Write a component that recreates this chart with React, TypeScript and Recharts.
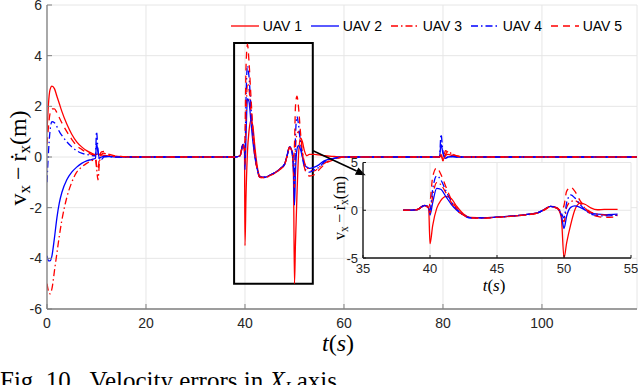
import React from 'react';
import { LineChart, Line, XAxis, YAxis, CartesianGrid, ReferenceArea, ReferenceLine, Legend } from 'recharts';

// time samples (s)
const time = [
  0, 0.3, 0.6, 1, 1.5, 2, 2.5, 3, 4, 5, 6, 7, 8, 9, 9.8, 10, 10.3, 10.6, 11, 11.5, 12, 13, 14, 16,
  20, 30, 38, 39,
  39.6, 39.9, 40, 40.2, 40.5, 40.8, 41.2, 41.6, 42, 42.5, 43,
  44, 45, 46, 47, 48, 48.5, 49, 49.5,
  49.8, 50, 50.2, 50.5, 50.8, 51.2, 51.6, 52, 52.5, 53, 54,
  55, 56, 58, 60, 70,
  79.3, 79.6, 80, 80.5, 81, 82, 83, 85,
  90, 100, 110, 119.2,
];

const uav1 = [
  1.0, 2.1, 2.65, 2.8, 2.7, 2.4, 2.1, 1.8, 1.3, 0.9, 0.6, 0.4, 0.25, 0.15, 0.1, 0.1, 0.12, 0.1, 0.08, 0.06, 0.05, 0.03, 0.02, 0.01,
  0, 0, 0, 0.05,
  0.5, 0.2, -3.5, -1.6, 0.2, 1.0, 1.45, 1.2, 0.4, -0.4, -0.75,
  -0.8, -0.72, -0.62, -0.48, -0.28, 0.05, 0.4, 0.25,
  -0.8, -5.0, -3.4, -1.5, 0.0, 0.75, 0.6, 0.25, 0.05, 0.1, 0.1,
  0.08, 0.05, 0.02, 0, 0,
  0, 0.05, -0.1, 0.05, 0.1, 0.05, 0.02, 0,
  0, 0, 0, 0,
];

const uav2 = [
  -3.9, -4.1, -4.1, -3.9, -3.2, -2.4, -1.8, -1.4, -0.9, -0.6, -0.4, -0.25, -0.15, -0.1, -0.05, 0.55, 0.2, -0.05, 0, 0.02, 0.02, 0.01, 0, 0,
  0, 0, 0, 0.05,
  0.5, 0.3, -0.5, 0.8, 2.3, 2.2, 1.4, 0.6, 0.0, -0.5, -0.8,
  -0.8, -0.72, -0.62, -0.48, -0.28, 0.05, 0.4, 0.2,
  -0.5, -1.9, -0.6, 0.3, 0.45, 0.3, 0.0, -0.3, -0.4, -0.45, -0.4,
  -0.3, -0.15, -0.05, 0, 0,
  0, 0.5, 0.15, -0.05, 0, 0.02, 0, 0,
  0, 0, 0, 0,
];

const uav3 = [
  -5.0, -5.3, -5.4, -5.2, -4.5, -3.8, -3.1, -2.5, -1.6, -1.0, -0.6, -0.4, -0.25, -0.15, -0.1, -0.4, -0.9, -0.2, 0.1, 0.15, 0.1, 0.05, 0.02, 0,
  0, 0, 0, 0.05,
  0.5, 0.3, -0.3, 1.5, 2.9, 2.7, 1.8, 0.8, 0.0, -0.5, -0.8,
  -0.82, -0.74, -0.64, -0.5, -0.3, 0.02, 0.38, 0.2,
  -0.5, -1.2, 0.3, 0.9, 1.0, 0.7, 0.2, -0.2, -0.4, -0.5, -0.55,
  -0.4, -0.25, -0.08, 0, 0,
  0, 0.1, -0.15, 0.1, 0.2, 0.1, 0.03, 0,
  0, 0, 0, 0,
];

const uav4 = [
  -1.0, 0.2, 1.0, 1.4, 1.35, 1.2, 1.0, 0.85, 0.6, 0.4, 0.25, 0.15, 0.1, 0.06, 0.05, 1.0, 0.3, -0.1, -0.1, 0, 0.02, 0.01, 0, 0,
  0, 0, 0, 0.05,
  0.5, 0.3, 0.0, 2.2, 3.6, 3.2, 2.0, 0.9, 0.1, -0.5, -0.8,
  -0.8, -0.72, -0.62, -0.48, -0.28, 0.05, 0.4, 0.2,
  -0.3, -0.8, 0.8, 1.6, 1.3, 0.6, 0.0, -0.4, -0.55, -0.6, -0.5,
  -0.4, -0.2, -0.05, 0, 0,
  0, 0.9, 0.2, -0.05, 0, 0.02, 0, 0,
  0, 0, 0, 0,
];

const uav5 = [
  0.5, 1.2, 1.7, 1.9, 1.9, 1.75, 1.55, 1.35, 1.0, 0.7, 0.45, 0.3, 0.18, 0.1, 0.08, -0.3, -0.5, 0.0, 0.2, 0.22, 0.15, 0.08, 0.04, 0.01,
  0, 0, 0, 0.05,
  0.5, 0.3, 0.8, 3.5, 4.45, 3.8, 2.4, 1.1, 0.2, -0.5, -0.8,
  -0.82, -0.74, -0.64, -0.5, -0.3, 0.02, 0.38, 0.2,
  0.0, 0.5, 2.0, 2.4, 2.0, 1.0, 0.2, -0.4, -0.65, -0.75, -0.7,
  -0.5, -0.3, -0.1, 0, 0,
  0, 0.15, -0.15, 0.25, 0.2, 0.1, 0.03, 0,
  0, 0, 0, 0,
];

const seriesKeys = ['uav1', 'uav2', 'uav3', 'uav4', 'uav5'];
const seriesNames = ['UAV 1', 'UAV 2', 'UAV 3', 'UAV 4', 'UAV 5'];
const seriesColors = ['#ff0000', '#0000ff', '#ff0000', '#0000ff', '#ff0000'];
const seriesDashes = [undefined, undefined, '7 3 1.5 3', '7 3 1.5 3', '7 5'];
const seriesValues = [uav1, uav2, uav3, uav4, uav5];

const mainXDomain = [0, 119.2];
const mainYDomain = [-6, 6];
const mainXTicks = [0, 20, 40, 60, 80, 100];
const mainYTicks = [-6, -4, -2, 0, 2, 4, 6];

const insetXDomain = [35, 55];
const insetYDomain = [-5, 5];
const insetXTicks = [35, 40, 45, 50, 55];
const insetYTicks = [-5, 0, 5];
const insetRange = [38, 54];

const zoomBox = { x1: 37.8, x2: 53.7, y1: -5, y2: 4.5 };
// arrow expressed in inset data coordinates
const arrowStart = { x: 31.27, y: 6.22 };
const arrowEnd = { x: 35.2, y: 3.66 };

const data = time.map((t, i) => {
  const row: any = { t };
  seriesKeys.forEach((k, j) => { row[k] = seriesValues[j][i]; });
  return row;
});
const insetData = data.filter((d) => d.t >= insetRange[0] && d.t <= insetRange[1]);

const SANS = '"Liberation Sans", Arial, Helvetica, sans-serif';
const SERIF = '"Liberation Serif", "Times New Roman", Times, serif';
const TEXT = '#262626';

const bottomTick = (len: number, color: string, fontSize: number, dy: number, label: boolean) => (p: any) => (
  <g>
    <line x1={p.x} y1={p.y} x2={p.x} y2={p.y - len} stroke={color} strokeWidth={1} />
    {label && (
      <text x={p.x} y={p.y + dy} textAnchor="middle" fontSize={fontSize} fontFamily={SANS} fill={TEXT}>
        {p.payload.value}
      </text>
    )}
  </g>
);
const topTick = (len: number, color: string) => (p: any) => (
  <line x1={p.x} y1={p.y} x2={p.x} y2={p.y + len} stroke={color} strokeWidth={1} />
);
const leftTick = (len: number, color: string, fontSize: number, dx: number, dy: number) => (p: any) => (
  <g>
    <line x1={p.x} y1={p.y} x2={p.x + len} y2={p.y} stroke={color} strokeWidth={1} />
    <text x={p.x - dx} y={p.y + dy} textAnchor="end" fontSize={fontSize} fontFamily={SANS} fill={TEXT}>
      {p.payload.value}
    </text>
  </g>
);
const rightTick = (len: number, color: string) => (p: any) => (
  <line x1={p.x} y1={p.y} x2={p.x - len} y2={p.y} stroke={color} strokeWidth={1} />
);

const ArrowShape = (p: any) => {
  const { x1, y1, x2, y2 } = p;
  const ang = Math.atan2(y2 - y1, x2 - x1);
  const L = 10;
  const W = 4;
  const bx = x2 - L * Math.cos(ang);
  const by = y2 - L * Math.sin(ang);
  const px = -Math.sin(ang) * W;
  const py = Math.cos(ang) * W;
  return (
    <g>
      <line x1={x1} y1={y1} x2={bx} y2={by} stroke="#000" strokeWidth={1.6} />
      <polygon points={`${x2},${y2} ${bx + px},${by + py} ${bx - px},${by - py}`} fill="#000" />
    </g>
  );
};

const LegendContent = () => (
  <svg width={410} height={30} style={{ overflow: 'visible' }}>
    {seriesNames.map((name, i) => (
      <g key={name}>
        <line x1={3 + 80 * i} y1={14} x2={31 + 80 * i} y2={14} stroke={seriesColors[i]} strokeWidth={1.3} strokeDasharray={seriesDashes[i]} />
        <text x={34.7 + 80 * i} y={19} fontSize={14} fontFamily={SANS} fill="#000">{name}</text>
      </g>
    ))}
  </svg>
);

const MAIN_AXIS = '#808080';
const INSET_AXIS = '#1a1a1a';

export default function App() {
  return (
    <div style={{ position: 'absolute', left: 0, top: 0, width: 640, height: 385, background: '#fff', overflow: 'hidden' }}>
      <div style={{ position: 'absolute', left: 0, top: 0 }}>
        <LineChart width={640} height={385} data={data} margin={{ top: 5, right: 3, bottom: 46, left: 0 }}>
          <CartesianGrid stroke="#e6e6e6" strokeWidth={1} />
          <XAxis dataKey="t" type="number" domain={mainXDomain} ticks={mainXTicks} interval={0} height={30}
            axisLine={{ stroke: MAIN_AXIS, strokeWidth: 1.3 }} tickLine={false} tickSize={0} tickMargin={0}
            tick={bottomTick(5, MAIN_AXIS, 14, 19, true)} allowDataOverflow />
          <XAxis xAxisId="top" orientation="top" type="number" domain={mainXDomain} ticks={mainXTicks} interval={0} height={0}
            axisLine={{ stroke: MAIN_AXIS, strokeWidth: 1.3 }} tickLine={false} tickSize={0} tickMargin={0}
            tick={topTick(5, MAIN_AXIS)} />
          <YAxis type="number" domain={mainYDomain} ticks={mainYTicks} interval={0} width={47}
            axisLine={{ stroke: MAIN_AXIS, strokeWidth: 1.3 }} tickLine={false} tickSize={0} tickMargin={0}
            tick={leftTick(5, MAIN_AXIS, 14, 5, 5)} allowDataOverflow />
          <YAxis yAxisId="right" orientation="right" type="number" domain={mainYDomain} ticks={mainYTicks} interval={0} width={0}
            axisLine={{ stroke: MAIN_AXIS, strokeWidth: 1.3 }} tickLine={false} tickSize={0} tickMargin={0}
            tick={rightTick(5, MAIN_AXIS)} />
          {seriesKeys.map((k, i) => (
            <Line key={k} dataKey={k} name={seriesNames[i]} type="monotone" stroke={seriesColors[i]} strokeWidth={1.3}
              strokeDasharray={seriesDashes[i]} dot={false} activeDot={false} isAnimationActive={false} />
          ))}
          <ReferenceArea x1={zoomBox.x1} x2={zoomBox.x2} y1={zoomBox.y1} y2={zoomBox.y2} fill="none" fillOpacity={0}
            stroke="#000" strokeWidth={2} ifOverflow="visible" />
          <Legend layout="horizontal" verticalAlign="middle" align="center" content={LegendContent}
            wrapperStyle={{ left: 228, top: 12, width: 410, height: 30 }} />
        </LineChart>
      </div>
      <div style={{ position: 'absolute', left: 300, top: 150 }}>
        <LineChart width={338} height={150} data={insetData} margin={{ top: 12.5, right: 7, bottom: 22, left: 0 }}>
          <CartesianGrid stroke="#e6e6e6" strokeWidth={1} fill="#ffffff" fillOpacity={1} />
          <XAxis dataKey="t" type="number" domain={insetXDomain} ticks={insetXTicks} interval={0} height={20}
            axisLine={{ stroke: INSET_AXIS, strokeWidth: 1.4 }} tickLine={false} tickSize={0} tickMargin={0}
            tick={bottomTick(3, INSET_AXIS, 13, 15, true)} allowDataOverflow />
          <XAxis xAxisId="top" orientation="top" type="number" domain={insetXDomain} ticks={insetXTicks} interval={0} height={0}
            axisLine={{ stroke: INSET_AXIS, strokeWidth: 1.4 }} tickLine={false} tickSize={0} tickMargin={0}
            tick={topTick(3, INSET_AXIS)} />
          <YAxis type="number" domain={insetYDomain} ticks={insetYTicks} interval={0} width={63}
            axisLine={{ stroke: INSET_AXIS, strokeWidth: 1.4 }} tickLine={false} tickSize={0} tickMargin={0}
            tick={leftTick(3, INSET_AXIS, 13, 5, 4.5)} allowDataOverflow />
          <YAxis yAxisId="right" orientation="right" type="number" domain={insetYDomain} ticks={insetYTicks} interval={0} width={0}
            axisLine={{ stroke: INSET_AXIS, strokeWidth: 1.4 }} tickLine={false} tickSize={0} tickMargin={0}
            tick={rightTick(3, INSET_AXIS)} />
          {seriesKeys.map((k, i) => (
            <Line key={k} dataKey={k} name={seriesNames[i]} type="monotone" stroke={seriesColors[i]} strokeWidth={1.3}
              strokeDasharray={seriesDashes[i]} dot={false} activeDot={false} isAnimationActive={false} />
          ))}
          <ReferenceLine segment={[arrowStart, arrowEnd]} ifOverflow="visible" shape={ArrowShape} />
        </LineChart>
      </div>
      <svg width={640} height={385} style={{ position: 'absolute', left: 0, top: 0, pointerEvents: 'none' }}>
        <text transform="translate(26,158) rotate(-90)" textAnchor="middle" fontFamily={SERIF} fontSize={24} fill="#000">
          v<tspan fontSize={17} dy={4}>x</tspan>
          <tspan dy={-4} dx={5}>−</tspan>
          <tspan dx={5}>ṙ</tspan>
          <tspan fontSize={17} dy={4}>x</tspan>
          <tspan dy={-4}>(m)</tspan>
        </text>
        <text x={338} y={351} textAnchor="middle" fontFamily={SERIF} fontSize={24} fill="#000">
          <tspan fontStyle="italic">t</tspan>(<tspan fontStyle="italic">s</tspan>)
        </text>
        <text transform="translate(345,208) rotate(-90)" textAnchor="middle" fontFamily={SERIF} fontSize={16} fill="#000">
          v<tspan fontSize={11.5} dy={3}>x</tspan>
          <tspan dy={-3} dx={3.5}>−</tspan>
          <tspan dx={3.5}>ṙ</tspan>
          <tspan fontSize={11.5} dy={3}>x</tspan>
          <tspan dy={-3}>(m)</tspan>
        </text>
        <text x={494} y={291} textAnchor="middle" fontFamily={SERIF} fontSize={17} fill="#000">
          <tspan fontStyle="italic">t</tspan>(<tspan fontStyle="italic">s</tspan>)
        </text>
        <text x={0} y={389} fontFamily={SERIF} fontSize={25} fill="#000">
          Fig. 10.{'\u2002'}Velocity errors in <tspan fontStyle="italic">X</tspan><tspan fontSize={17} dy={4} fontStyle="italic">I</tspan><tspan dy={-4}> axis.</tspan>
        </text>
      </svg>
    </div>
  );
}
